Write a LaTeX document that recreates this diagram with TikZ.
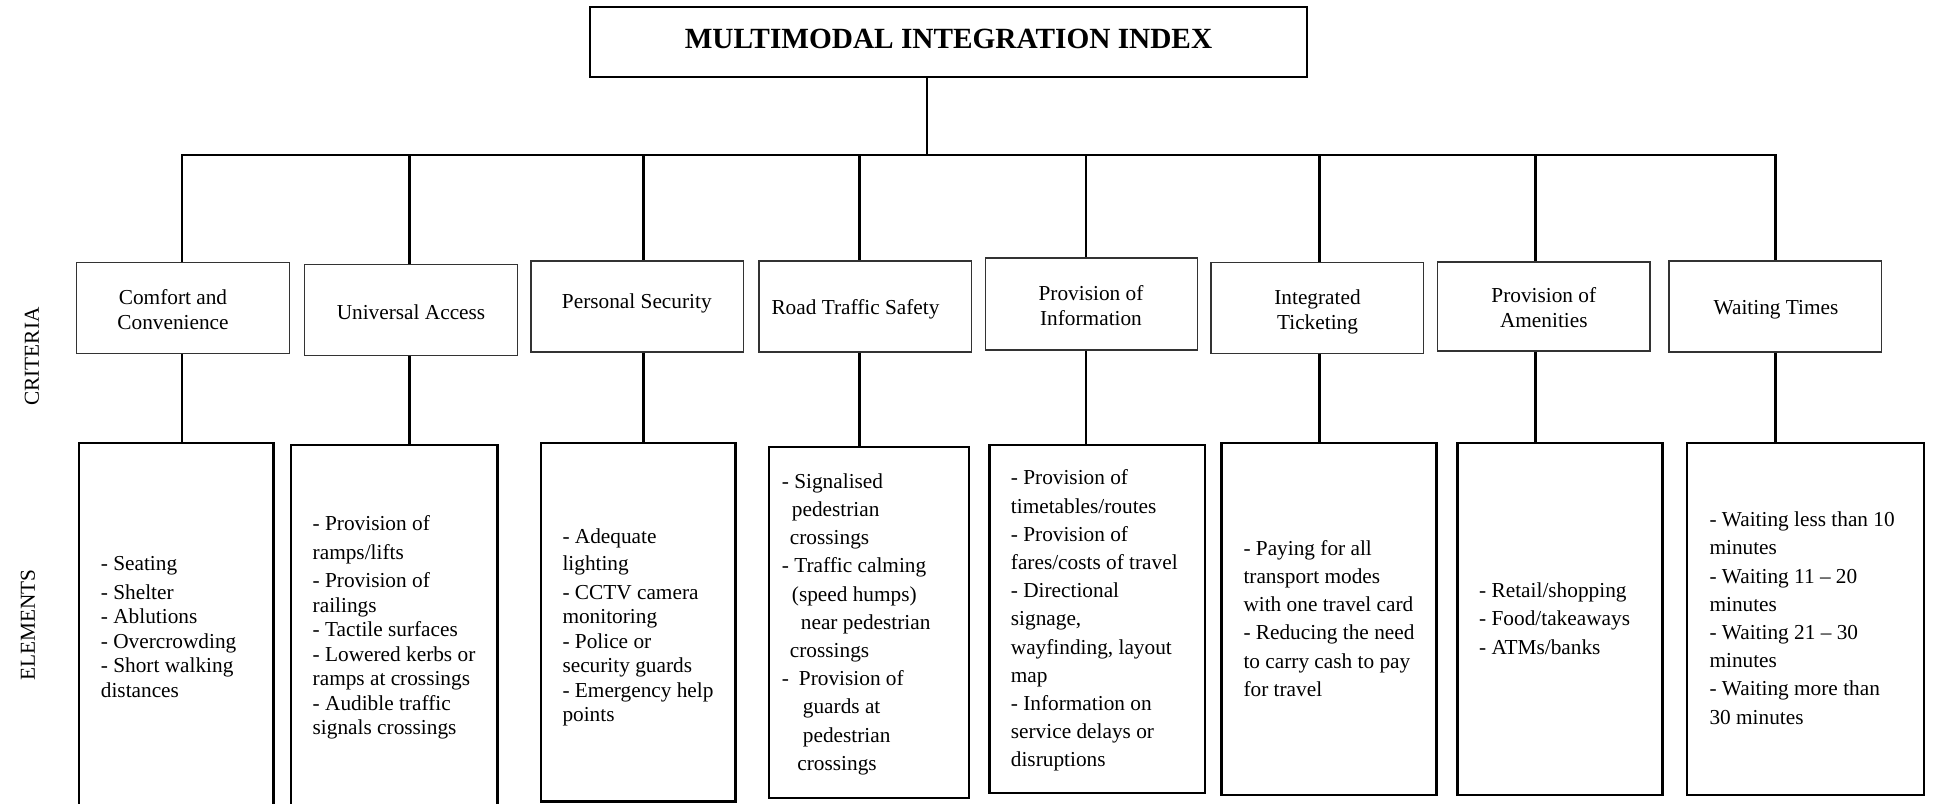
\documentclass[tikz,border=0pt]{standalone}
\usepackage{fontspec}
\setmainfont{Liberation Serif}
\newcommand\firstln{\rule{0pt}{20pt}}
\begin{document}
\begin{tikzpicture}[x=1pt,y=-1pt,
  crit/.style={draw=black!80,line width=1.4pt,minimum width=212.5pt,minimum height=91pt,inner sep=0pt},
  elem/.style={draw=black,line width=2.8pt,inner sep=0pt},
  ttl/.style={draw=black,line width=2.2pt,minimum width=717pt,minimum height=70pt,inner sep=0pt},
  conn/.style={line width=2.5pt},
  ctext/.style={font=\fontsize{21.3}{25}\selectfont,inner sep=0pt,align=center,anchor=north},
  etext/.style={inner sep=0pt,align=left,anchor=north west},
  side/.style={font=\fontsize{21.3}{25}\selectfont,inner sep=0pt,rotate=90}
]
\useasboundingbox (0,0) rectangle (1935,803);
\clip (0,0) rectangle (1935,803);

% title
\node[ttl] (ttl) at (948.5,42) {};
\node[font=\bfseries\fontsize{29.3}{32}\selectfont,inner sep=0pt,anchor=base] (ttltext) at (948.5,48) {MULTIMODAL INTEGRATION INDEX};

% side labels
\node[side] (lblcrit) at (32,356.5) {CRITERIA};
\node[side] (lblelem) at (28,625) {ELEMENTS};

% criteria boxes
\node[crit] (c1) at (183,308) {};
\node[crit] (c2) at (411,310) {};
\node[crit] (c3) at (637.2,306.5) {};
\node[crit] (c4) at (865.2,306.5) {};
\node[crit,minimum height=92pt] (c5) at (1091.5,304) {};
\node[crit] (c6) at (1317.2,308) {};
\node[crit,minimum height=89pt] (c7) at (1543.8,306.5) {};
\node[crit] (c8) at (1775.2,306.5) {};

% criteria texts
\node[ctext] (ct1) at (173,284.5) {\firstln Comfort and\\Convenience};
\node[ctext] (ct2) at (411,298.8) {\firstln Universal Access};
\node[ctext] (ct3) at (636.8,288) {\firstln Personal Security};
\node[ctext] (ct4) at (855.5,294.5) {\firstln Road Traffic Safety};
\node[ctext] (ct5) at (1091,280) {\firstln Provision of\\Information};
\node[ctext] (ct6) at (1317.5,284.5) {\firstln Integrated\\Ticketing};
\node[ctext] (ct7) at (1543.8,282.7) {\firstln Provision of\\Amenities};
\node[ctext] (ct8) at (1776,294.5) {\firstln Waiting Times};

% element boxes
\node[elem,minimum width=194.5pt,minimum height=372pt] (e1) at (176.2,629) {};
\node[elem,minimum width=206.5pt,minimum height=370pt] (e2) at (394.2,630) {};
\node[elem,minimum width=194.6pt,minimum height=358.5pt] (e3) at (638.3,622.2) {};
\node[elem,minimum width=200pt,minimum height=351pt] (e4) at (869,622.5) {};
\node[elem,minimum width=215.5pt,minimum height=348pt] (e5) at (1097.2,619) {};
\node[elem,minimum width=215pt,minimum height=352pt] (e6) at (1329,619) {};
\node[elem,minimum width=205pt,minimum height=352pt] (e7) at (1559.8,619) {};
\node[elem,minimum width=237pt,minimum height=352pt] (e8) at (1805.5,619) {};

% element texts
\node[etext,font=\fontsize{21.3}{24.5}\selectfont] (et1) at (100.7,550) {\firstln - Seating\\[4.5pt]
- Shelter\\- Ablutions\\- Overcrowding\\- Short walking\\distances};
\node[etext,font=\fontsize{21.3}{24.5}\selectfont] (et2) at (312.5,510.7) {\firstln - Provision of\\[4pt]
ramps/lifts\\[4pt]- Provision of\\railings\\- Tactile surfaces\\- Lowered kerbs or\\ramps at crossings\\- Audible traffic\\signals crossings};
\node[etext,font=\fontsize{21.3}{24.5}\selectfont] (et3) at (562.3,523) {\firstln - Adequate\\[2.5pt]
lighting\\[4.5pt]- CCTV camera\\monitoring\\- Police or\\security guards\\- Emergency help\\points};
\node[etext,font=\fontsize{21.3}{28.2}\selectfont] (et4) at (781.7,468) {\firstln - Signalised\\
\hspace*{10pt}pedestrian\\\hspace*{8pt}crossings\\- Traffic calming\\\hspace*{10pt}(speed humps)\\
\hspace*{19pt}near pedestrian\\\hspace*{8pt}crossings\\-\hspace*{10pt}Provision of\\
\hspace*{21pt}guards at\\\hspace*{21pt}pedestrian\\\hspace*{15.5pt}crossings};
\node[etext,font=\fontsize{21.3}{28.2}\selectfont] (et5) at (1010.7,464.7) {\firstln - Provision of\\
timetables/routes\\- Provision of\\fares/costs of travel\\- Directional\\signage,\\wayfinding, layout\\map\\- Information on\\service delays or\\disruptions};
\node[etext,font=\fontsize{21.3}{28.2}\selectfont] (et6) at (1243.3,535) {\firstln - Paying for all\\
transport modes\\with one travel card\\- Reducing the need\\to carry cash to pay\\for travel};
\node[etext,font=\fontsize{21.3}{28.4}\selectfont] (et7) at (1479,577) {\firstln - Retail/shopping\\
- Food/takeaways\\- ATMs/banks};
\node[etext,font=\fontsize{21.3}{28.2}\selectfont] (et8) at (1709.3,506.4) {\firstln - Waiting less than 10\\
minutes\\- Waiting 11 -- 20\\minutes\\- Waiting 21 -- 30\\minutes\\- Waiting more than\\30 minutes};

% connectors
\coordinate (bar) at (927,155);
\coordinate (d1) at (182,155);
\coordinate (d2) at (409.7,155);
\coordinate (d3) at (643.3,155);
\coordinate (d4) at (859.7,155);
\coordinate (d5) at (1085.8,155);
\coordinate (d6) at (1319.5,155);
\coordinate (d7) at (1535.4,155);
\coordinate (d8) at (1775.7,155);

\draw[conn] (ttl.south -| bar) -- (bar);
\draw[conn] (d1 |- c1.north) -- (d1) -- (d8) -- (d8 |- c8.north);
\foreach \i in {2,...,7} {\draw[conn] (d\i) -- (d\i |- c\i.north);}
\foreach \i in {1,...,8} {\draw[conn] (d\i |- c\i.south) -- (d\i |- e\i.north);}
\end{tikzpicture}
\end{document}
